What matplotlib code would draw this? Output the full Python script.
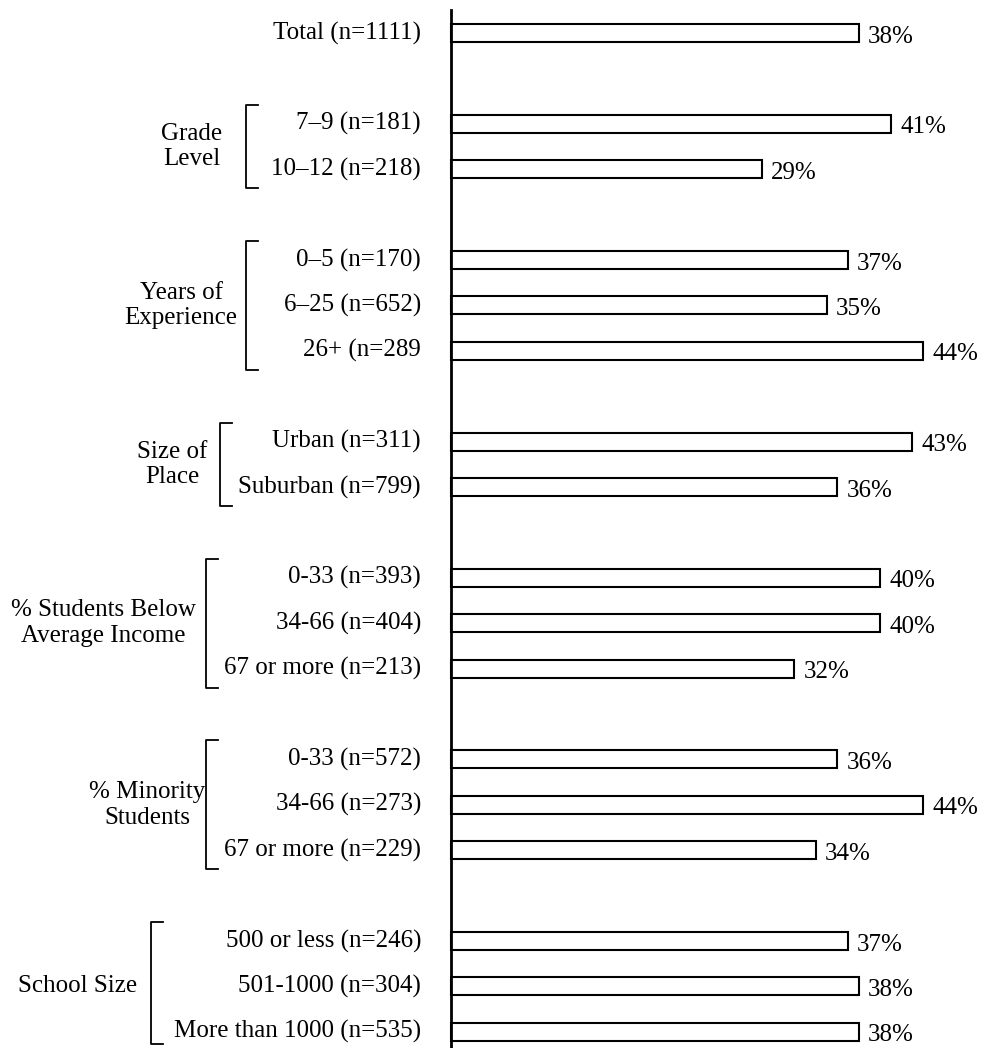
import numpy as np
import matplotlib.pyplot as plt

plt.rcParams['font.family'] = ['Liberation Serif', 'DejaVu Serif']

# data
total_label = 'Total (n=1111)'
total_value = 38

groups = ['Grade\nLevel', 'Years of\nExperience', 'Size of\nPlace',
          '% Students Below\nAverage Income', '% Minority\nStudents',
          'School Size']
group_labels = [
    ['7–9 (n=181)', '10–12 (n=218)'],
    ['0–5 (n=170)', '6–25 (n=652)', '26+ (n=289'],
    ['Urban (n=311)', 'Suburban (n=799)'],
    ['0-33 (n=393)', '34-66 (n=404)', '67 or more (n=213)'],
    ['0-33 (n=572)', '34-66 (n=273)', '67 or more (n=229)'],
    ['500 or less (n=246)', '501-1000 (n=304)', 'More than 1000 (n=535)'],
]
group_values = [
    [41, 29],
    [37, 35, 44],
    [43, 36],
    [40, 40, 32],
    [36, 44, 34],
    [37, 38, 38],
]

# layout (pixels of the 982x1048 picture)
W, H = 982, 1048
X0 = 451          # pixel of the 0% line
PX_PER_PCT = 10.73
Y0 = 33           # pixel of first bar centre
SLOT = 45.4       # pixels between bars
FS = 18

bracket_px = [246, 246, 220, 206, 206, 151]
glabel_px = [192, 181, 172, 103, 147, 78]


def px2x(px):
    return (px - X0) / PX_PER_PCT


def py2y(py):
    return (py - Y0) / SLOT


fig = plt.figure(figsize=(W / 100, H / 100), dpi=100)
ax = fig.add_axes([0, 0, 1, 1])
ax.set_xlim(px2x(0), px2x(W))
ax.set_ylim(py2y(H), py2y(0))
ax.axis('off')

# build positions: total, blank, groups separated by a blank slot
labels = [total_label]
values = [total_value]
pos = [0]
spans = []
slot = 2
for labs, vals in zip(group_labels, group_values):
    start = slot
    for lab, v in zip(labs, vals):
        labels.append(lab)
        values.append(v)
        pos.append(slot)
        slot += 1
    spans.append((start, slot - 1))
    slot += 1

ax.barh(pos, values, height=0.4, color='white', edgecolor='black',
        linewidth=1.5)
ax.plot([0, 0], [py2y(10), py2y(H)], color='black', lw=2)

for p, v, lab in zip(pos, values, labels):
    ax.text(v + 0.85, p + 0.08, f'{v}%', ha='left', va='center', fontsize=FS)
    ax.text(px2x(421), p, lab, ha='right', va='center', fontsize=FS)

tick = 12 / PX_PER_PCT
for (a, b), g, bx, gx in zip(spans, groups, bracket_px, glabel_px):
    top, bot = a - 0.42, min(b + 0.42, py2y(H - 4))
    x = px2x(bx)
    ax.plot([x + tick, x, x, x + tick], [top, top, bot, bot],
            color='black', lw=1.3)
    ax.text(px2x(gx), (a + b) / 2, g, ha='center', va='center',
            fontsize=FS, linespacing=1.2)

fig.savefig('out.png', dpi=100)
